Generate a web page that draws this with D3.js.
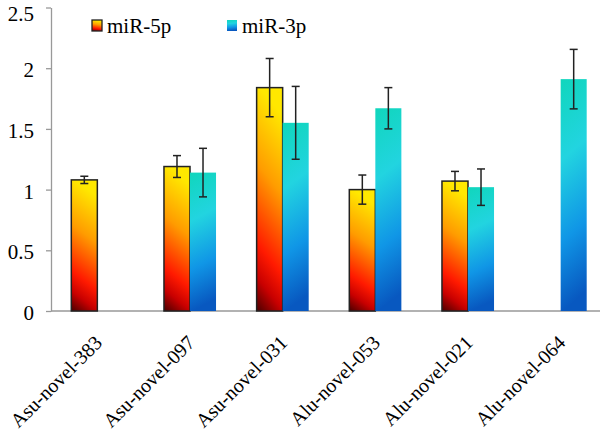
<!DOCTYPE html>
<html lang="en">
<head>
  <meta charset="UTF-8">
  <title>miR-5p / miR-3p expression</title>
  <script src="https://d3js.org/d3.v7.min.js"></script>
  <style>
    body { margin: 0; background: #fff; }
    svg { display: block; }
  </style>
</head>
<body>
  <div id="chart"></div>
  <script>
    const categories = ['Asu-novel-383', 'Asu-novel-097', 'Asu-novel-031', 'Alu-novel-053', 'Alu-novel-021', 'Alu-novel-064'];
    const series = ['miR-5p', 'miR-3p'];
    const mir5p = [1.08, 1.19, 1.84, 1.00, 1.07, null];
    const mir5pErr = [0.03, 0.09, 0.24, 0.12, 0.08, null];
    const mir3p = [null, 1.14, 1.55, 1.67, 1.02, 1.91];
    const mir3pErr = [null, 0.20, 0.30, 0.17, 0.15, 0.245];
    const yTicks = [0, 0.5, 1, 1.5, 2, 2.5];

    const FONT = '"Liberation Serif", "Times New Roman", Times, serif';
    const W = 600, H = 434;
    const m = { left: 51, top: 7.5, right: -7, bottom: 123 };
    const svg = d3.select('#chart').append('svg').attr('width', W).attr('height', H);

    const defs = svg.append('defs');
    const g5 = defs.append('linearGradient').attr('id', 'g5')
      .attr('x1', 0.15).attr('y1', 0).attr('x2', 0).attr('y2', 1);
    [[0, '#ffe800'], [0.35, '#ff9c00'], [0.7, '#ff1a00'], [0.85, '#c80000'], [1, '#4a0000']]
      .forEach(([o, c]) => g5.append('stop').attr('offset', o).attr('stop-color', c));
    const g3 = defs.append('linearGradient').attr('id', 'g3')
      .attr('x1', 0).attr('y1', 0).attr('x2', 0.1).attr('y2', 1);
    [[0, '#10d6bc'], [0.35, '#22d4e0'], [0.7, '#1096e6'], [1, '#0858c0']]
      .forEach(([o, c]) => g3.append('stop').attr('offset', o).attr('stop-color', c));

    const x = d3.scaleBand().domain(categories).range([m.left, W - m.right]);
    const inner = d3.scaleBand().domain(series).range([0, x.bandwidth()]).paddingInner(0).paddingOuter(0.78);
    const y = d3.scaleLinear().domain([0, 2.5]).range([H - m.bottom, m.top]);

    // axes
    const yAxis = svg.append('g').attr('transform', `translate(${m.left},0)`)
      .call(d3.axisLeft(y).tickValues(yTicks).tickFormat(d3.format('')).tickSize(5).tickSizeOuter(0).tickPadding(12));
    yAxis.selectAll('line, path').attr('stroke', '#999').attr('stroke-width', 1.3);
    yAxis.selectAll('text').style('font-family', FONT).attr('font-size', 21).attr('fill', '#000')
      .attr('dy', d => d === 2.5 ? '0.6em' : '0.4em');
    svg.append('line').attr('x1', m.left).attr('x2', W).attr('y1', y(0)).attr('y2', y(0))
      .attr('stroke', '#999').attr('stroke-width', 1.3);

    const rows = [];
    categories.forEach((c, i) => {
      if (mir5p[i] != null) rows.push({ c, s: 'miR-5p', v: mir5p[i], e: mir5pErr[i] });
      if (mir3p[i] != null) rows.push({ c, s: 'miR-3p', v: mir3p[i], e: mir3pErr[i] });
    });

    svg.append('g').selectAll('rect').data(rows).join('rect')
      .attr('x', d => x(d.c) + inner(d.s))
      .attr('y', d => y(d.v))
      .attr('width', inner.bandwidth())
      .attr('height', d => y(0) - y(d.v))
      .attr('fill', d => d.s === 'miR-5p' ? 'url(#g5)' : 'url(#g3)')
      .attr('stroke', d => d.s === 'miR-5p' ? '#222' : 'none')
      .attr('stroke-width', 1.5);

    // error bars
    const eb = svg.append('g').selectAll('g').data(rows).join('g')
      .attr('stroke', '#222').attr('stroke-width', 1.5);
    const cx = d => x(d.c) + inner(d.s) + inner.bandwidth() / 2;
    eb.append('line').attr('x1', cx).attr('x2', cx).attr('y1', d => y(d.v + d.e)).attr('y2', d => y(d.v - d.e));
    eb.append('line').attr('x1', d => cx(d) - 4).attr('x2', d => cx(d) + 4).attr('y1', d => y(d.v + d.e)).attr('y2', d => y(d.v + d.e));
    eb.append('line').attr('x1', d => cx(d) - 4).attr('x2', d => cx(d) + 4).attr('y1', d => y(d.v - d.e)).attr('y2', d => y(d.v - d.e));

    // category labels
    svg.append('g').selectAll('text').data(categories).join('text')
      .style('font-family', FONT)
      .attr('font-size', 20)
      .attr('text-anchor', 'end')
      .attr('transform', d => `translate(${x(d) + x.bandwidth() / 2 + 6},${y(0) + 33}) rotate(-45)`)
      .text(d => d);

    // legend
    const leg = svg.append('g').selectAll('g').data(series).join('g')
      .attr('transform', (d, i) => `translate(${i ? 227 : 92},0)`);
    leg.append('rect').attr('x', 0).attr('y', 20).attr('width', 10).attr('height', 11)
      .attr('fill', d => d === 'miR-5p' ? 'url(#g5)' : 'url(#g3)')
      .attr('stroke', d => d === 'miR-5p' ? '#222' : 'none').attr('stroke-width', 1.3);
    leg.append('text').style('font-family', FONT).attr('x', 15).attr('y', 33).attr('font-size', 21).text(d => d);
  </script>
</body>
</html>
